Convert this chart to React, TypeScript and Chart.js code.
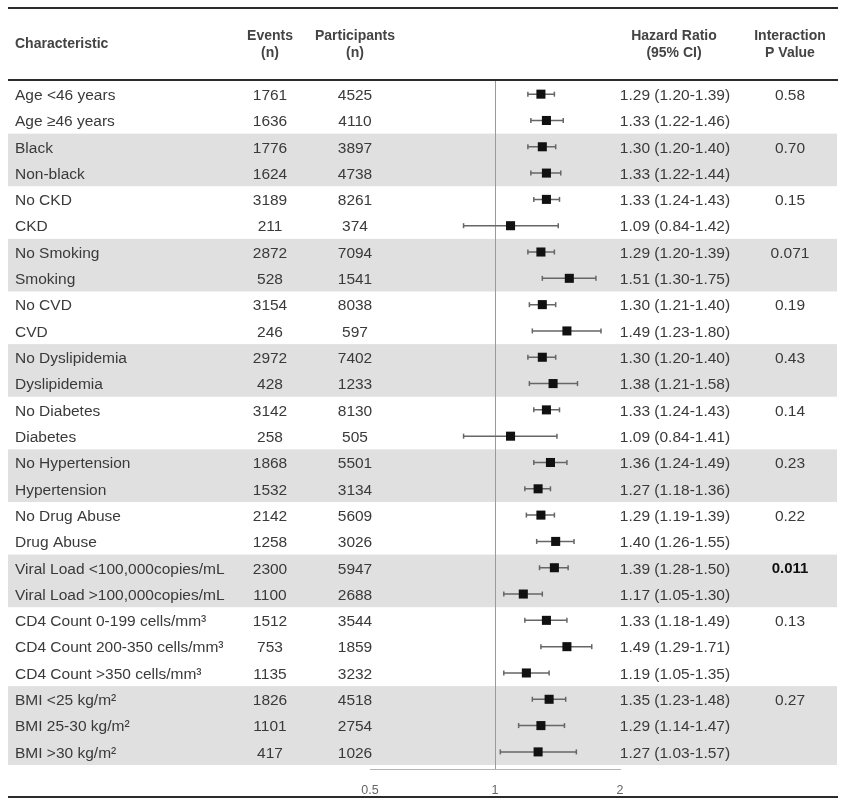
import React, { useEffect, useRef } from "react";
import { Chart, registerables } from "chart.js";

Chart.register(...registerables);

const rowLabels = [
  "Age <46 years", "Age \u226546 years",
  "Black", "Non-black",
  "No CKD", "CKD",
  "No Smoking", "Smoking",
  "No CVD", "CVD",
  "No Dyslipidemia", "Dyslipidemia",
  "No Diabetes", "Diabetes",
  "No Hypertension", "Hypertension",
  "No Drug Abuse", "Drug Abuse",
  "Viral Load <100,000copies/mL", "Viral Load >100,000copies/mL",
  "CD4 Count 0-199 cells/mm\u00b3", "CD4 Count 200-350 cells/mm\u00b3", "CD4 Count >350 cells/mm\u00b3",
  "BMI <25 kg/m\u00b2", "BMI 25-30 kg/m\u00b2", "BMI >30 kg/m\u00b2",
];
const events = [1761, 1636, 1776, 1624, 3189, 211, 2872, 528, 3154, 246, 2972, 428, 3142, 258, 1868, 1532, 2142, 1258, 2300, 1100, 1512, 753, 1135, 1826, 1101, 417];
const participants = [4525, 4110, 3897, 4738, 8261, 374, 7094, 1541, 8038, 597, 7402, 1233, 8130, 505, 5501, 3134, 5609, 3026, 5947, 2688, 3544, 1859, 3232, 4518, 2754, 1026];
const hazardRatio = [1.29, 1.33, 1.30, 1.33, 1.33, 1.09, 1.29, 1.51, 1.30, 1.49, 1.30, 1.38, 1.33, 1.09, 1.36, 1.27, 1.29, 1.40, 1.39, 1.17, 1.33, 1.49, 1.19, 1.35, 1.29, 1.27];
const ciLower = [1.20, 1.22, 1.20, 1.22, 1.24, 0.84, 1.20, 1.30, 1.21, 1.23, 1.20, 1.21, 1.24, 0.84, 1.24, 1.18, 1.19, 1.26, 1.28, 1.05, 1.18, 1.29, 1.05, 1.23, 1.14, 1.03];
const ciUpper = [1.39, 1.46, 1.40, 1.44, 1.43, 1.42, 1.39, 1.75, 1.40, 1.80, 1.40, 1.58, 1.43, 1.41, 1.49, 1.36, 1.39, 1.55, 1.50, 1.30, 1.49, 1.71, 1.35, 1.48, 1.47, 1.57];
const groupSizes = [2, 2, 2, 2, 2, 2, 2, 2, 2, 2, 3, 3];
const groupPValues = ["0.58", "0.70", "0.15", "0.071", "0.19", "0.43", "0.14", "0.23", "0.22", "0.011", "0.13", "0.27"];
const groupPBold = [false, false, false, false, false, false, false, false, false, true, false, false];
const xTickValues = [0.5, 1, 2];
const xTickLabels = ["0.5", "1", "2"];

const FONT = '"Liberation Sans", Arial, Helvetica, sans-serif';
const TEXT = "#3a3a3a";
const TEXT_DY = 1.5;

const fmt = (v: number) => v.toFixed(2);

const tablePlugin = {
  id: "forestTable",
  beforeDraw(chart: any) {
    const { ctx, scales } = chart;
    const y = scales.y;
    ctx.save();
    ctx.fillStyle = "#ffffff";
    ctx.fillRect(0, 0, chart.width, chart.height);
    let start = 0;
    groupSizes.forEach((size, g) => {
      if (g % 2 === 1) {
        const top = y.getPixelForValue(start - 0.5);
        const bot = y.getPixelForValue(start + size - 0.5);
        ctx.fillStyle = "#e0e0e0";
        ctx.fillRect(8, top, 829, bot - top);
      }
      start += size;
    });
    ctx.restore();
  },
  afterDraw(chart: any) {
    const { ctx, scales } = chart;
    const y = scales.y;
    ctx.save();
    ctx.strokeStyle = "#2b2b2b";
    ctx.lineWidth = 2;
    [8, 80, 797].forEach((ry) => {
      ctx.beginPath();
      ctx.moveTo(8, ry);
      ctx.lineTo(838, ry);
      ctx.stroke();
    });
    ctx.fillStyle = "#444444";
    ctx.font = `bold 14px ${FONT}`;
    ctx.textBaseline = "middle";
    ctx.textAlign = "left";
    ctx.fillText("Characteristic", 15, 44);
    ctx.textAlign = "center";
    ctx.fillText("Events", 270, 36);
    ctx.fillText("(n)", 270, 53);
    ctx.fillText("Participants", 355, 36);
    ctx.fillText("(n)", 355, 53);
    ctx.fillText("Hazard Ratio", 674, 36);
    ctx.fillText("(95% CI)", 674, 53);
    ctx.fillText("Interaction", 790, 36);
    ctx.fillText("P Value", 790, 53);
    ctx.fillStyle = TEXT;
    ctx.font = `15.5px ${FONT}`;
    rowLabels.forEach((label, i) => {
      const py = y.getPixelForValue(i) + TEXT_DY;
      ctx.textAlign = "left";
      ctx.fillText(label, 15, py);
      ctx.textAlign = "center";
      ctx.fillText(String(events[i]), 270, py);
      ctx.fillText(String(participants[i]), 355, py);
      ctx.fillText(`${fmt(hazardRatio[i])} (${fmt(ciLower[i])}-${fmt(ciUpper[i])})`, 675, py);
    });
    let start = 0;
    groupSizes.forEach((size, g) => {
      const py = y.getPixelForValue(start) + TEXT_DY;
      ctx.font = groupPBold[g] ? `bold 15px ${FONT}` : `15.5px ${FONT}`;
      ctx.fillStyle = groupPBold[g] ? "#111" : TEXT;
      ctx.textAlign = "center";
      ctx.fillText(groupPValues[g], 790, py);
      start += size;
    });
    ctx.restore();
  },
};

export default function App() {
  const ref = useRef<HTMLCanvasElement | null>(null);
  useEffect(() => {
    if (!ref.current) return;
    const squares = hazardRatio.map((v, i) => ({ x: v, y: i }));
    const whiskers: any[] = [];
    ciLower.forEach((lo, i) => {
      whiskers.push({ x: lo, y: i });
      whiskers.push({ x: ciUpper[i], y: i });
      whiskers.push({ x: null, y: null });
    });
    const chart = new Chart(ref.current, {
      type: "scatter",
      data: {
        datasets: [
          {
            data: squares,
            pointStyle: "rect",
            pointRadius: 6.4,
            backgroundColor: "#111111",
            borderColor: "#111111",
            borderWidth: 0,
            order: 0,
          } as any,
          {
            data: whiskers,
            showLine: true,
            spanGaps: false,
            borderColor: "#666666",
            borderWidth: 1.5,
            pointStyle: "line",
            pointRotation: 90,
            pointRadius: 2.5,
            pointBorderColor: "#666666",
            pointBorderWidth: 1.5,
            order: 1,
          } as any,
        ],
      },
      options: {
        animation: false,
        responsive: false,
        devicePixelRatio: 1,
        layout: { padding: { left: 370, right: 230, top: 81, bottom: 0 } },
        plugins: { legend: { display: false }, tooltip: { enabled: false } },
        scales: {
          x: {
            type: "logarithmic",
            min: 0.5,
            max: 2,
            position: "bottom",
            border: { display: true, color: "#b5b5b5", width: 1 },
            grid: {
              drawOnChartArea: true,
              drawTicks: false,
              lineWidth: 1,
              color: (c: any) => (c.tick && c.tick.value === 1 ? "#9a9a9a" : "rgba(0,0,0,0)"),
            },
            ticks: {
              padding: 14,
              color: "#666",
              font: { size: 12.5, family: FONT },
              autoSkip: false,
              maxRotation: 0,
              callback: (_v: any, i: number) => xTickLabels[i],
            },
            afterBuildTicks: (s: any) => {
              s.ticks = xTickValues.map((v) => ({ value: v }));
            },
            afterFit: (s: any) => {
              s.height = 35;
            },
          },
          y: {
            type: "linear",
            reverse: true,
            min: -0.5,
            max: 25.65,
            display: false,
          },
        },
      } as any,
      plugins: [tablePlugin],
    });
    return () => chart.destroy();
  }, []);
  return (
    <div style={{ position: "absolute", left: 0, top: 0, width: 850, height: 804 }}>
      <canvas ref={ref} width={850} height={804} style={{ width: 850, height: 804 }} />
    </div>
  );
}
